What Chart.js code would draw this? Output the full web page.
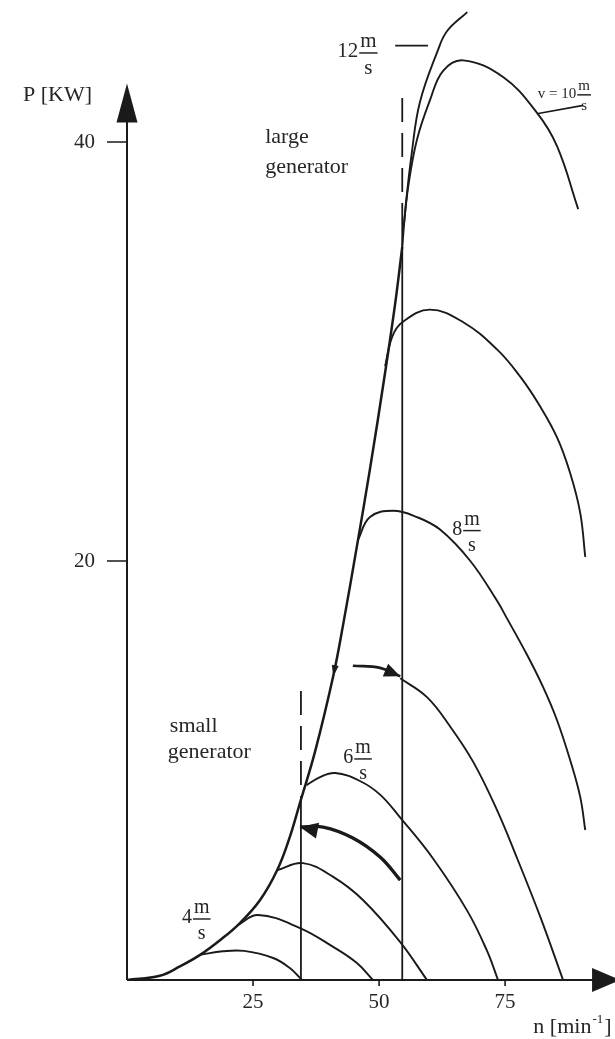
<!DOCTYPE html>
<html>
<head>
<meta charset="utf-8">
<script src="https://cdn.jsdelivr.net/npm/chart.js@4.4.0/dist/chart.umd.min.js"></script>
<style>
  html, body { margin: 0; padding: 0; background: #fff; }
  #wrap { width: 615px; height: 1039px; }
</style>
</head>
<body>
<div id="wrap"><canvas id="chart" width="615" height="1039"></canvas></div>
<script>
// rotor speed n [min^-1] against power P [kW]
const xTicks = [25, 50, 75];
const yTicks = [20, 40];

// optimum curve (max power for each wind speed)
const envN = [0, 6.5, 10.5, 14.5, 18.5, 22.4, 26.4, 29.8, 32.3, 34.3, 37.3, 40.9, 42.9, 45.6, 48.2, 51.2, 53.2, 54.6];
const envP = [0, 0.2, 0.65, 1.2, 1.91, 2.72, 3.82, 5.25, 6.83, 8.45, 10.9, 14.5, 17.0, 20.7, 24.4, 29.0, 32.3, 35.0];

// one curve per wind speed
const v3N = [14.5, 19.0, 23.2, 29.0, 32.3, 34.7];
const v3P = [1.2, 1.37, 1.39, 1.05, 0.57, 0];
const v4N = [22.0, 26.0, 34.3, 40.9, 45.6, 48.8];
const v4P = [2.62, 3.10, 2.48, 1.58, 0.81, 0];
const v5N = [29.8, 34.9, 40.9, 46.8, 54.2, 59.5];
const v5P = [5.25, 5.58, 4.92, 3.82, 1.81, 0];
const v6N = [35.6, 38.3, 41.3, 46.2, 50.2, 54.2, 60.7, 67.5, 71.4, 73.6];
const v6P = [9.3, 9.69, 9.88, 9.5, 8.85, 7.75, 5.8, 3.3, 1.4, 0];
const v7N = [54.2, 59.5, 64.1, 68.7, 73.4, 77.4, 82.0, 86.5];
const v7P = [14.4, 13.5, 12.1, 10.4, 8.11, 5.8, 3.0, 0];
const v8N = [45.8, 48.2, 52.8, 57.5, 62.1, 68.1, 73.4, 75.4, 79.4, 82.5, 85.3, 87.9, 89.9, 90.9];
const v8P = [21.0, 22.1, 22.4, 22.1, 21.5, 20.0, 18.1, 17.25, 15.5, 14.0, 12.4, 10.5, 8.74, 7.16];
const v9N = [51.2, 52.6, 54.6, 60.1, 66.7, 73.4, 78.0, 81.9, 85.3, 87.9, 89.9, 90.9];
const v9P = [29.3, 30.7, 31.4, 32.0, 31.4, 30.1, 28.8, 27.4, 25.9, 24.2, 22.3, 20.2];
const v10N = [54.9, 55.8, 57.5, 60.1, 62.7, 66.7, 74.6, 81.3, 85.3, 89.5];
const v10P = [36.0, 37.9, 40.1, 42.0, 43.4, 43.9, 43.1, 41.4, 39.8, 36.8];
const v12N = [54.6, 55.3, 56.5, 58.1, 61.7, 63.5, 67.5];
const v12P = [35.0, 37.0, 39.5, 41.9, 44.4, 45.3, 46.2];

// generator switch speeds: solid part up to the optimum curve, dashed above
const genN = [34.5, 54.6];
const genSolidTop = [8.5, 37.0];
const genDashTop = [13.8, 42.1];

// switching arrows (small <- large, small -> large)
const toSmallN = [34.3, 38.9, 44.8, 50.2, 54.2];
const toSmallP = [7.3, 7.3, 6.78, 5.87, 4.77];
const toLargeN = [44.8, 50.2, 54.2];
const toLargeP = [15.0, 14.9, 14.5];

// label leaders
const lead12N = [53.2, 59.7];
const lead12P = [44.6, 44.6];
const lead10N = [81.3, 90.5];
const lead10P = [41.35, 41.75];

const INK = '#1a1a1a';
const TXT = '#262626';
const SERIF = '"Liberation Serif", "DejaVu Serif", serif';

const pts = (ns, ps) => ns.map((n, i) => ({ x: n, y: ps[i] }));

function curve(ns, ps, width) {
  return {
    data: pts(ns, ps), showLine: true, pointRadius: 0, borderColor: INK,
    borderWidth: width || 1.9, tension: 0.4, fill: false
  };
}
function straight(ns, ps, width, dash) {
  return {
    data: pts(ns, ps), showLine: true, pointRadius: 0, borderColor: INK,
    borderWidth: width || 1.6, tension: 0, borderDash: dash || [], fill: false
  };
}

const datasets = [
  curve(envN, envP, 2.5),
  curve(v3N, v3P), curve(v4N, v4P), curve(v5N, v5P), curve(v6N, v6P),
  curve(v7N, v7P), curve(v8N, v8P), curve(v9N, v9P), curve(v10N, v10P), curve(v12N, v12P),
  curve(toSmallN, toSmallP, 3.4), curve(toLargeN, toLargeP, 2.6),
  straight(lead12N, lead12P, 1.6), straight(lead10N, lead10P, 1.6)
];
genN.forEach((n, i) => {
  datasets.push(straight([n, n], [0, genSolidTop[i]], 1.8));
  datasets.push(straight([n, n], [genDashTop[i], genSolidTop[i]], 1.8, [24, 11]));
});

function head(ctx, tx, ty, fx, fy, len, half) {
  const a = Math.atan2(ty - fy, tx - fx);
  ctx.beginPath();
  ctx.moveTo(tx, ty);
  ctx.lineTo(tx - len * Math.cos(a) + half * Math.sin(a), ty - len * Math.sin(a) - half * Math.cos(a));
  ctx.lineTo(tx - len * Math.cos(a) - half * Math.sin(a), ty - len * Math.sin(a) + half * Math.cos(a));
  ctx.closePath();
  ctx.fill();
}

const overlay = {
  id: 'overlay',
  afterDatasetsDraw(chart) {
    const { ctx, scales: { x, y } } = chart;
    const px = v => x.getPixelForValue(v);
    const py = v => y.getPixelForValue(v);
    const x0 = px(0), y0 = py(0);
    ctx.save();
    ctx.strokeStyle = INK;
    ctx.fillStyle = INK;

    // axes with arrow heads
    const yTip = py(42.8), xTip = px(97.8);
    ctx.lineWidth = 2;
    ctx.beginPath();
    ctx.moveTo(x0, y0); ctx.lineTo(x0, yTip + 30);
    ctx.moveTo(x0, y0); ctx.lineTo(xTip - 20, y0);
    ctx.stroke();
    head(ctx, x0, yTip, x0, yTip + 10, 39, 10.5);
    head(ctx, xTip, y0, xTip - 10, y0, 28, 12);

    // ticks
    ctx.lineWidth = 1.6;
    ctx.beginPath();
    yTicks.forEach(t => { ctx.moveTo(x0 - 20, py(t)); ctx.lineTo(x0, py(t)); });
    xTicks.forEach(t => { ctx.moveTo(px(t), y0); ctx.lineTo(px(t), y0 + 6); });
    ctx.stroke();

    ctx.fillStyle = TXT;
    ctx.font = '21px ' + SERIF;
    ctx.textAlign = 'right';
    ctx.textBaseline = 'middle';
    yTicks.forEach(t => ctx.fillText(String(t), x0 - 32, py(t)));
    ctx.textAlign = 'center';
    ctx.textBaseline = 'top';
    xTicks.forEach(t => ctx.fillText(String(t), px(t), y0 + 12));

    // axis titles
    ctx.textBaseline = 'alphabetic';
    ctx.textAlign = 'left';
    ctx.font = '22px ' + SERIF;
    ctx.fillText('P [KW]', x0 - 104, yTip + 18);
    let tx = px(80.6), ty = y0 + 53;
    ctx.fillText('n [min', tx, ty);
    tx += ctx.measureText('n [min').width;
    ctx.font = '13px ' + SERIF;
    ctx.fillText('-1', tx + 1, ty - 10);
    tx += ctx.measureText('-1').width + 2;
    ctx.font = '22px ' + SERIF;
    ctx.fillText(']', tx, ty);

    // generator notes
    ctx.font = '22px ' + SERIF;
    ctx.fillText('large', px(27.4), py(39.95));
    ctx.fillText('generator', px(27.4), py(38.5));
    ctx.fillText('small', px(8.5), py(11.85));
    ctx.fillText('generator', px(8.1), py(10.6));

    // wind speed labels v [m/s]
    const speed = (label, n, p, size) => {
      const lx = px(n), ly = py(p);
      ctx.font = size + 'px ' + SERIF;
      ctx.textAlign = 'left';
      ctx.textBaseline = 'middle';
      ctx.fillText(label, lx, ly);
      const bx = lx + ctx.measureText(label).width + 1;
      const bw = ctx.measureText('m').width + 2;
      ctx.lineWidth = 1.5;
      ctx.beginPath();
      ctx.moveTo(bx, ly + 1); ctx.lineTo(bx + bw, ly + 1);
      ctx.stroke();
      ctx.textAlign = 'center';
      ctx.textBaseline = 'alphabetic';
      ctx.fillText('m', bx + bw / 2, ly - size * 0.25);
      ctx.fillText('s', bx + bw / 2, ly + size * 1.05);
    };
    ctx.strokeStyle = TXT;
    speed('4', 10.9, 2.96, 20);
    speed('6', 42.9, 10.6, 20);
    speed('8', 64.5, 21.5, 20);
    speed('12', 41.7, 44.3, 21);
    speed('v = 10', 81.5, 42.3, 15);

    // arrow heads on the switching paths and on the optimum curve
    ctx.fillStyle = INK;
    head(ctx, px(toSmallN[0]), py(toSmallP[0]), px(toSmallN[2]), py(toSmallP[2]), 18, 8);
    const k = toLargeN.length - 1;
    head(ctx, px(toLargeN[k]), py(toLargeP[k]), px(toLargeN[k - 1]), py(toLargeP[k - 1]), 16, 7);
    head(ctx, px(envN[11]), py(envP[11]), px(envN[12]), py(envP[12]), 11, 3.5);

    ctx.restore();
  }
};

new Chart(document.getElementById('chart'), {
  type: 'scatter',
  data: { datasets },
  options: {
    responsive: false,
    devicePixelRatio: 1,
    animation: false,
    events: [],
    layout: { padding: { left: 127, right: 0, top: 0, bottom: 59 } },
    scales: {
      x: { type: 'linear', min: 0, max: 96.8, display: false },
      y: { type: 'linear', min: 0, max: 46.78, display: false }
    },
    plugins: { legend: { display: false }, tooltip: { enabled: false } }
  },
  plugins: [overlay]
});
</script>
</body>
</html>
